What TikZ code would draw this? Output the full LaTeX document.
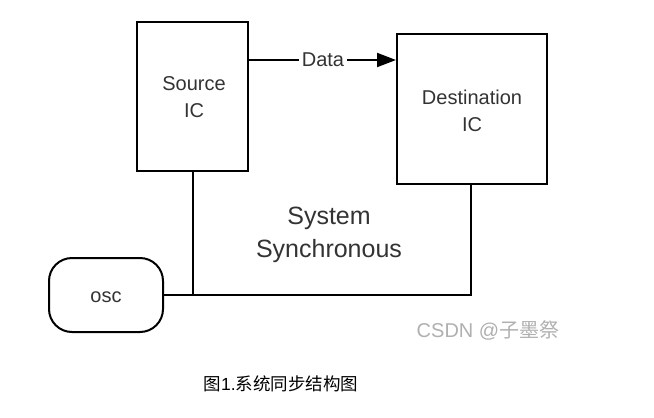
\documentclass[tikz,border=0pt]{standalone}
\usepackage{fontspec}
\setmainfont{Liberation Sans}
\newfontfamily\cjk{Noto Sans CJK SC}
\usetikzlibrary{arrows.meta}
\definecolor{txt}{HTML}{333333}
\definecolor{wm}{HTML}{B0B0B0}
\begin{document}
\begin{tikzpicture}[x=1pt,y=-1pt,
  box/.style={draw,line width=2pt,inner sep=0pt},
  wire/.style={line width=2pt},
  lbl/.style={text=txt,font=\fontsize{20}{27}\selectfont,align=center}]
\useasboundingbox[fill=white] (0,0) rectangle (654,418);
\node[box,minimum width=111pt,minimum height=149pt] (src) at (192.5,96.5) {};
\node[lbl] (srct) at (194,97) {Source\\IC};
\node[box,minimum width=150pt,minimum height=150pt] (dst) at (472,109) {};
\node[lbl] (dstt) at (472,111) {Destination\\IC};
\node[box,rounded corners=23pt,minimum width=114pt,minimum height=74pt] (osc) at (106,295) {};
\node[lbl] (osct) at (106,297) {osc};
\node[lbl,inner sep=3pt] (data) at (323,60) {Data};
\node[text=txt,font=\fontsize{25}{33}\selectfont,align=center] (sys) at (329,235) {System\\Synchronous};
\coordinate (j) at (193,295);
\coordinate (k) at (471,295);
\draw[wire] (src.east |- data.west) -- (data.west);
\draw[wire,-{Triangle[length=19pt,width=14pt]}] (data.east) -- (dst.west |- data.east);
\draw[wire] (src.south -| j) -- (j);
\draw[wire] (osc.east) -- (k) -- (dst.south -| k);
\node[text=wm,font=\fontsize{20}{24}\selectfont] (wmk) at (488,330) {CSDN @{\cjk 子墨祭}};
\node[text=black,font=\fontsize{17.5}{20}\selectfont] (cap) at (281,384) {{\cjk 图}1.{\cjk 系统同步结构图}};
\end{tikzpicture}
\end{document}
